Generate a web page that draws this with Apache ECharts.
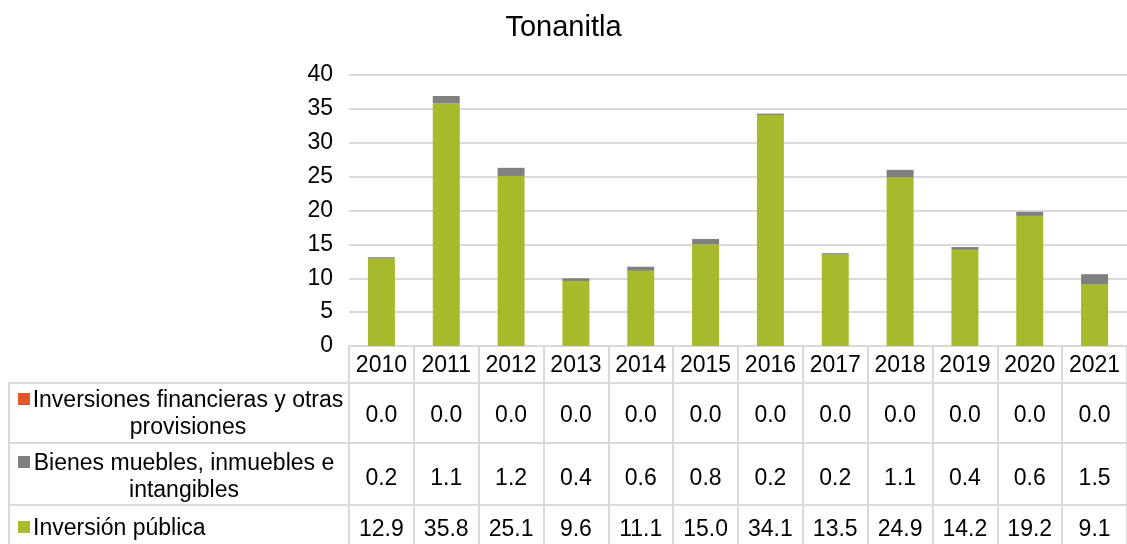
<!DOCTYPE html>
<html>
<head>
<meta charset="utf-8">
<script src="https://cdn.jsdelivr.net/npm/echarts@6/dist/echarts.min.js"></script>
<style>
  html, body { margin: 0; padding: 0; background: #fff; }
  #main { width: 1127px; height: 544px; }
</style>
</head>
<body>
<div id="main"></div>
<script>
var years = ['2010', '2011', '2012', '2013', '2014', '2015', '2016', '2017', '2018', '2019', '2020', '2021'];
var financieras = [0.0, 0.0, 0.0, 0.0, 0.0, 0.0, 0.0, 0.0, 0.0, 0.0, 0.0, 0.0];
var bienes = [0.2, 1.1, 1.2, 0.4, 0.6, 0.8, 0.2, 0.2, 1.1, 0.4, 0.6, 1.5];
var publica = [12.9, 35.8, 25.1, 9.6, 11.1, 15.0, 34.1, 13.5, 24.9, 14.2, 19.2, 9.1];
var yTicks = [0, 5, 10, 15, 20, 25, 30, 35, 40];

var FONT = 'Liberation Sans, Arial, sans-serif';
var FS = 23;
var GRID_COLOR = '#d9d9d9';
var C_FIN = '#e4572a', C_BIEN = '#808080', C_PUB = '#a8b92c';

// one extra x axis per table row, labels read from the row's array
function tableAxis(values, offset) {
	return {
		type: 'category',
		data: years,
		position: 'bottom',
		offset: offset,
		axisLine: { show: false },
		axisTick: { show: false },
		axisLabel: {
			margin: 8,
			fontSize: FS,
			fontFamily: FONT,
			color: '#000',
			interval: 0,
			formatter: function(v, i) {
				return values[i].toFixed(1);
			}
		}
	};
}

function hLine(y) {
	return { type: 'line', shape: { x1: 9, y1: y, x2: 1127, y2: y },
		style: { stroke: GRID_COLOR, lineWidth: 2 } };
}

function swatch(y, color) {
	return { type: 'rect', shape: { x: 18, y: y - 6, width: 12, height: 12 },
		style: { fill: color } };
}

function label(text, x, y, align) {
	return { type: 'text', x: x, y: y,
		style: { text: text, font: FS + 'px ' + FONT, fill: '#000',
			textAlign: align, textVerticalAlign: 'middle' } };
}

var myChart = echarts.init(document.getElementById('main'));
var option = {
	animation: false,
	title: {
		text: 'Tonanitla',
		left: 'center',
		top: 8,
		textStyle: { fontSize: 29, fontWeight: 'normal', fontFamily: FONT, color: '#000' }
	},
	grid: { left: 349, right: -8, top: 75, bottom: 198, containLabel: false },
	xAxis: [{
			type: 'category',
			data: years,
			axisLine: { lineStyle: { color: GRID_COLOR, width: 2 } },
			axisTick: { show: true, length: 200, lineStyle: { color: GRID_COLOR, width: 2 } },
			axisLabel: { margin: 8, fontSize: FS, fontFamily: FONT, color: '#000', interval: 0 }
		},
		tableAxis(financieras, 50),
		tableAxis(bienes, 113),
		tableAxis(publica, 164)
	],
	yAxis: {
		type: 'value',
		min: yTicks[0],
		max: yTicks[yTicks.length - 1],
		interval: 5,
		axisLine: { show: false },
		axisTick: { show: false },
		axisLabel: { margin: 16, fontSize: FS, fontFamily: FONT, color: '#000' },
		splitLine: { lineStyle: { color: GRID_COLOR, width: 2 } }
	},
	series: [{
			name: 'Inversión pública',
			type: 'bar',
			stack: 'total',
			data: publica,
			barWidth: 27,
			itemStyle: { color: C_PUB }
		},
		{
			name: 'Bienes muebles, inmuebles e intangibles',
			type: 'bar',
			stack: 'total',
			data: bienes,
			barWidth: 27,
			itemStyle: { color: C_BIEN }
		},
		{
			name: 'Inversiones financieras y otras provisiones',
			type: 'bar',
			stack: 'total',
			data: financieras,
			barWidth: 27,
			itemStyle: { color: C_FIN }
		}
	],
	graphic: [
		hLine(383),
		hLine(443),
		hLine(505),
		{ type: 'line', shape: { x1: 9, y1: 382, x2: 9, y2: 544 },
			style: { stroke: GRID_COLOR, lineWidth: 2 } },
		swatch(399, C_FIN),
		label('Inversiones financieras y otras', 188, 401, 'center'),
		label('provisiones', 188, 428, 'center'),
		swatch(462, C_BIEN),
		label('Bienes muebles, inmuebles e', 184, 464, 'center'),
		label('intangibles', 184, 491, 'center'),
		swatch(527, C_PUB),
		label('Inversión pública', 33, 529, 'left')
	]
};

myChart.setOption(option);
</script>
</body>
</html>
